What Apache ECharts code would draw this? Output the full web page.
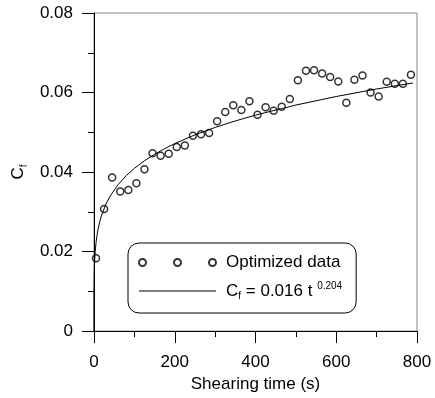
<!DOCTYPE html>
<html>
<head>
<meta charset="utf-8">
<script src="https://cdn.jsdelivr.net/npm/echarts@6/dist/echarts.min.js"></script>
<style>
html,body{margin:0;padding:0;background:#fff;}
#chart{width:435px;height:398px;}
</style>
</head>
<body>
<div id="chart"></div>
<script>
// Scatter data: shearing time (s) and friction coefficient Cf
var shearTime = [5,25,45,65,85,105,125,145,165,185,205,225,245,265,285,305,325,345,365,385,
                 405,425,445,465,485,505,525,545,565,585,605,625,645,665,685,705,725,745,765,785];
var cfValues = [0.0183,0.0307,0.0386,0.0351,0.0355,0.0372,0.0407,0.0447,0.0441,0.0446,
                0.0463,0.0467,0.0491,0.0495,0.0498,0.0528,0.0551,0.0568,0.0556,0.0578,
                0.0544,0.0563,0.0554,0.0564,0.0584,0.0631,0.0655,0.0656,0.0648,0.0639,
                0.0628,0.0574,0.0632,0.0643,0.0600,0.0590,0.0627,0.0622,0.0622,0.0645];
// Fitted curve
var fitTime = [0,0.01,0.1,0.5,1,2,3,5,7,10,15,20,30,40,60,80,100,125,150,175,200,250,300,350,400,500,600,700,790];
var fitCf = [0,0.00625,0.0100,0.01389,0.0160,0.01843,0.02002,0.02222,0.02380,0.02559,0.02780,0.02948,
             0.03202,0.03396,0.03688,0.03912,0.04094,0.04284,0.04447,0.04589,0.04716,0.04935,0.05122,
             0.05286,0.05432,0.05685,0.05900,0.06089,0.06240];
var xTicks = {min:0, max:800, interval:200};
var yTicks = {min:0, max:0.08, interval:0.02};
var nameData = 'Optimized data';
var nameFit = 'Cf = 0.016 t^0.204';

var FONT = '"Liberation Sans", Arial, sans-serif';
var chart = echarts.init(document.getElementById('chart'));
var scatterData = shearTime.map(function(t,i){return [t, cfValues[i]];});
var fitData = fitTime.map(function(t,i){return [t, fitCf[i]];});

chart.setOption({
  animation:false,
  backgroundColor:'#fff',
  textStyle:{fontFamily:FONT, color:'#000'},
  grid:{left:94, right:18, top:13, bottom:65, show:true, borderColor:'#888', borderWidth:1, backgroundColor:'transparent'},
  xAxis:{
    type:'value', min:xTicks.min, max:xTicks.max, interval:xTicks.interval,
    name:'Shearing time (s)', nameLocation:'middle', nameGap:41,
    nameTextStyle:{fontSize:17, color:'#000', fontFamily:FONT},
    axisLine:{show:true, lineStyle:{color:'#000', width:1}},
    axisTick:{show:true, length:12, inside:false, lineStyle:{color:'#000'}},
    minorTick:{show:true, splitNumber:2, length:6, lineStyle:{color:'#000'}},
    axisLabel:{fontSize:17, color:'#000', margin:23, fontFamily:FONT},
    splitLine:{show:false}
  },
  yAxis:{
    type:'value', min:yTicks.min, max:yTicks.max, interval:yTicks.interval,
    name:'{a|C}{b|f}', nameLocation:'middle', nameGap:62, nameRotate:90,
    nameTextStyle:{color:'#000', fontFamily:FONT, rich:{
      a:{fontSize:17, fontFamily:FONT, color:'#000', lineHeight:22},
      b:{fontSize:10, fontFamily:FONT, color:'#000', verticalAlign:'bottom', lineHeight:22}
    }},
    axisLine:{show:true, lineStyle:{color:'#000', width:1}},
    axisTick:{show:true, length:12, inside:false, lineStyle:{color:'#000'}},
    minorTick:{show:true, splitNumber:2, length:6, lineStyle:{color:'#000'}},
    axisLabel:{fontSize:17, color:'#000', margin:21, fontFamily:FONT},
    splitLine:{show:false}
  },
  legend:{
    orient:'vertical', left:128, top:243,
    padding:[11,14,12,10], itemGap:10, itemWidth:77, itemHeight:17,
    backgroundColor:'#fff', borderColor:'#000', borderWidth:1, borderRadius:11,
    textStyle:{fontSize:17, color:'#000', fontFamily:FONT, padding:[0,0,0,5], rich:{
      n:{fontSize:17, fontFamily:FONT, color:'#000', lineHeight:20},
      s:{fontSize:10, fontFamily:FONT, color:'#000', verticalAlign:'bottom', lineHeight:20},
      p:{fontSize:10, fontFamily:FONT, color:'#000', verticalAlign:'top', lineHeight:20}
    }},
    formatter:function(name){
      if(name===nameFit){ return '{n|C}{s|f}{n| = 0.016 t }{p|0.204}'; }
      return '{n|' + name + '}';
    },
    data:[
      {name:nameData, icon:'path://M0,3.5a3.5,3.5 0 1,0 7,0a3.5,3.5 0 1,0 -7,0M35,3.5a3.5,3.5 0 1,0 7,0a3.5,3.5 0 1,0 -7,0M70,3.5a3.5,3.5 0 1,0 7,0a3.5,3.5 0 1,0 -7,0'},
      {name:nameFit, icon:'path://M3,0H74V1H3Z', itemStyle:{color:'#000', borderWidth:0}}
    ]
  },
  series:[
    {
      name:nameFit, type:'line', data:fitData, symbol:'none', showSymbol:false, smooth:false,
      lineStyle:{color:'#000', width:1}, itemStyle:{color:'#000'}, z:2
    },
    {
      name:nameData, type:'scatter', data:scatterData, symbol:'circle', symbolSize:7,
      itemStyle:{color:'transparent', borderColor:'#000', borderWidth:1.5}, z:3
    }
  ]
});
</script>
</body>
</html>
